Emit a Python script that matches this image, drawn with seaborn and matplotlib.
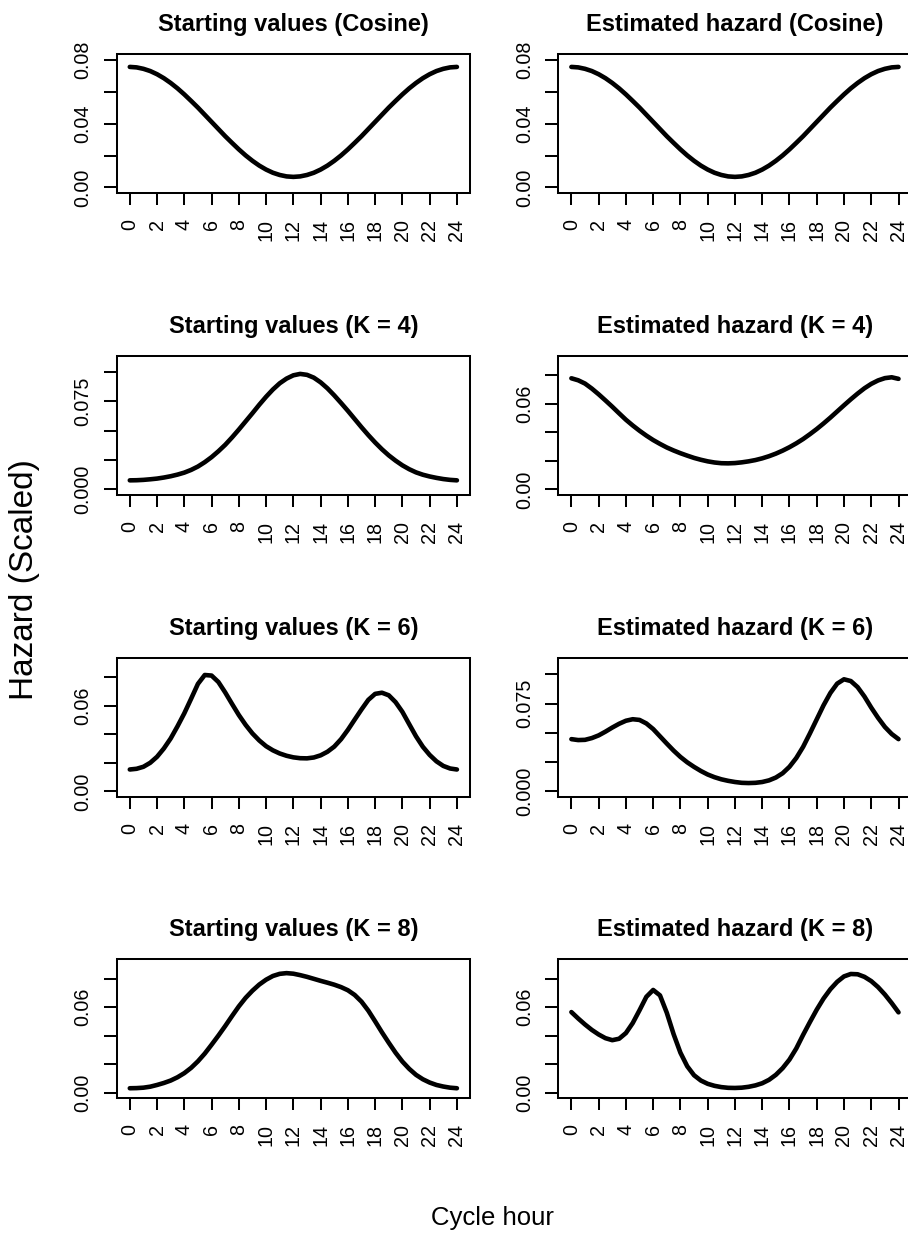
import matplotlib
matplotlib.use("Agg")
import matplotlib.pyplot as plt
import numpy as np
import pandas as pd
import seaborn as sns

# ---- data -------------------------------------------------------------
hours = [h * 0.5 for h in range(49)]  # 0, 0.5, ..., 24

start_cosine = [0.0758, 0.0755, 0.0746, 0.0732, 0.0712, 0.0687, 0.0657, 0.0623,
                0.0585, 0.0544, 0.0502, 0.0457, 0.0412, 0.0367, 0.0322, 0.0280,
                0.0239, 0.0201, 0.0167, 0.0137, 0.0112, 0.0092, 0.0078, 0.0069,
                0.0066, 0.0069, 0.0078, 0.0092, 0.0112, 0.0137, 0.0167, 0.0201,
                0.0239, 0.0280, 0.0322, 0.0367, 0.0412, 0.0457, 0.0502, 0.0544,
                0.0585, 0.0623, 0.0657, 0.0687, 0.0712, 0.0732, 0.0746, 0.0755,
                0.0758]
est_cosine = [0.0758, 0.0755, 0.0746, 0.0732, 0.0712, 0.0687, 0.0657, 0.0623,
              0.0585, 0.0544, 0.0502, 0.0457, 0.0412, 0.0367, 0.0322, 0.0280,
              0.0239, 0.0201, 0.0167, 0.0137, 0.0112, 0.0092, 0.0078, 0.0069,
              0.0066, 0.0069, 0.0078, 0.0092, 0.0112, 0.0137, 0.0167, 0.0201,
              0.0239, 0.0280, 0.0322, 0.0367, 0.0412, 0.0457, 0.0502, 0.0544,
              0.0585, 0.0623, 0.0657, 0.0687, 0.0712, 0.0732, 0.0746, 0.0755,
              0.0758]
start_k4 = [0.0077, 0.0078, 0.0081, 0.0086, 0.0092, 0.0101, 0.0112, 0.0126,
            0.0143, 0.0166, 0.0195, 0.0232, 0.0275, 0.0325, 0.0380, 0.0443,
            0.0510, 0.0580, 0.0650, 0.0722, 0.0790, 0.0852, 0.0905, 0.0945,
            0.0973, 0.0985, 0.0977, 0.0953, 0.0913, 0.0862, 0.0802, 0.0737,
            0.0670, 0.0600, 0.0530, 0.0463, 0.0400, 0.0342, 0.0290, 0.0245,
            0.0205, 0.0172, 0.0145, 0.0125, 0.0110, 0.0098, 0.0088, 0.0081,
            0.0077]
est_k4 = [0.0777, 0.0763, 0.0740, 0.0705, 0.0665, 0.0622, 0.0578, 0.0532,
          0.0487, 0.0447, 0.0410, 0.0376, 0.0345, 0.0318, 0.0293, 0.0272,
          0.0253, 0.0236, 0.0220, 0.0207, 0.0196, 0.0188, 0.0183, 0.0182,
          0.0184, 0.0189, 0.0196, 0.0205, 0.0217, 0.0232, 0.0250, 0.0271,
          0.0295, 0.0322, 0.0352, 0.0386, 0.0422, 0.0461, 0.0502, 0.0545,
          0.0588, 0.0630, 0.0670, 0.0707, 0.0738, 0.0762, 0.0778, 0.0784,
          0.0773]
start_k6 = [0.0153, 0.0158, 0.0172, 0.0200, 0.0242, 0.0300, 0.0370, 0.0455,
            0.0546, 0.0648, 0.0752, 0.0814, 0.0810, 0.0765, 0.0692, 0.0612,
            0.0534, 0.0465, 0.0405, 0.0356, 0.0316, 0.0287, 0.0265, 0.0249,
            0.0238, 0.0232, 0.0231, 0.0237, 0.0252, 0.0277, 0.0313, 0.0365,
            0.0430, 0.0502, 0.0573, 0.0640, 0.0682, 0.0690, 0.0672, 0.0624,
            0.0556, 0.0470, 0.0385, 0.0312, 0.0255, 0.0210, 0.0178, 0.0160,
            0.0153]
est_k6 = [0.0446, 0.0438, 0.0440, 0.0455, 0.0478, 0.0510, 0.0545, 0.0577,
          0.0603, 0.0616, 0.0610, 0.0580, 0.0532, 0.0470, 0.0408, 0.0348,
          0.0294, 0.0248, 0.0209, 0.0174, 0.0144, 0.0121, 0.0103, 0.0090,
          0.0080, 0.0073, 0.0071, 0.0073, 0.0080, 0.0094, 0.0118, 0.0155,
          0.0210, 0.0285, 0.0380, 0.0495, 0.0615, 0.0735, 0.0840, 0.0920,
          0.0957, 0.0942, 0.0890, 0.0810, 0.0715, 0.0628, 0.0550, 0.0490,
          0.0446]
start_k8 = [0.0031, 0.0032, 0.0035, 0.0042, 0.0054, 0.0068, 0.0085, 0.0108,
            0.0137, 0.0174, 0.0220, 0.0274, 0.0336, 0.0400, 0.0467, 0.0537,
            0.0605, 0.0665, 0.0715, 0.0758, 0.0792, 0.0818, 0.0833, 0.0838,
            0.0834, 0.0824, 0.0812, 0.0798, 0.0784, 0.0771, 0.0757, 0.0740,
            0.0718, 0.0685, 0.0638, 0.0575, 0.0500, 0.0423, 0.0350, 0.0280,
            0.0218, 0.0167, 0.0125, 0.0094, 0.0071, 0.0054, 0.0043, 0.0035,
            0.0031]
est_k8 = [0.0565, 0.0520, 0.0478, 0.0440, 0.0408, 0.0382, 0.0368, 0.0378,
          0.0418, 0.0488, 0.0578, 0.0672, 0.0720, 0.0682, 0.0560, 0.0410,
          0.0280, 0.0185, 0.0122, 0.0085, 0.0062, 0.0048, 0.0039, 0.0034,
          0.0033, 0.0035, 0.0041, 0.0051, 0.0066, 0.0090, 0.0125, 0.0172,
          0.0232, 0.0310, 0.0405, 0.0495, 0.0582, 0.0660, 0.0725, 0.0777,
          0.0815, 0.0832, 0.0830, 0.0812, 0.0782, 0.0740, 0.0688, 0.0628,
          0.0563]

titles = ["Starting values (Cosine)", "Estimated hazard (Cosine)",
          "Starting values (K = 4)", "Estimated hazard (K = 4)",
          "Starting values (K = 6)", "Estimated hazard (K = 6)",
          "Starting values (K = 8)", "Estimated hazard (K = 8)"]
series = [start_cosine, est_cosine, start_k4, est_k4,
          start_k6, est_k6, start_k8, est_k8]

# upper end of each panel's y range
y_upper = [0.0807, 0.0807, 0.1094, 0.0897, 0.0897, 0.1095, 0.0899, 0.0899]

ticks_02 = [0.0, 0.02, 0.04, 0.06, 0.08]
ticks_025 = [0.0, 0.025, 0.05, 0.075, 0.1]
y_ticks = [ticks_02, ticks_02, ticks_025, ticks_02,
           ticks_02, ticks_025, ticks_02, ticks_02]
y_ticklabels = [["0.00", "", "0.04", "", "0.08"],
                ["0.00", "", "0.04", "", "0.08"],
                ["0.000", "", "", "0.075", ""],
                ["0.00", "", "", "0.06", ""],
                ["0.00", "", "", "0.06", ""],
                ["0.000", "", "", "0.075", ""],
                ["0.00", "", "", "0.06", ""],
                ["0.00", "", "", "0.06", ""]]
x_ticks = list(range(0, 25, 2))

# ---- style ------------------------------------------------------------
sns.set_style("white")
plt.rcParams["font.family"] = ["Liberation Sans", "DejaVu Sans"]
for key in ["text.color", "axes.labelcolor", "xtick.color", "ytick.color",
            "axes.edgecolor", "axes.titlecolor"]:
    plt.rcParams[key] = "black"
plt.rcParams["axes.linewidth"] = 1.45

W, H = 908, 1239
fig = plt.figure(figsize=(W / 100, H / 100), dpi=100)
fig.patch.set_facecolor("white")

col_left = [116.7, 558.3]
row_top = [54.0, 356.0, 658.0, 959.3]
box_w, box_h = 353.3, 138.5

for i, (title, vals) in enumerate(zip(titles, series)):
    r, c = divmod(i, 2)
    x0, top = col_left[c], row_top[r]
    ax = fig.add_axes([x0 / W, 1 - (top + box_h) / H, box_w / W, box_h / H])
    df = pd.DataFrame({"hour": hours, "hazard": vals})
    sns.lineplot(data=df, x="hour", y="hazard", ax=ax, color="black",
                 linewidth=3.3, estimator=None, sort=False,
                 solid_capstyle="round", solid_joinstyle="round")
    ax.set_xlim(-0.96, 24.96)
    u = y_upper[i]
    ax.set_ylim(-0.04 * u, 1.04 * u)
    ax.set_xticks(x_ticks)
    ax.set_xticklabels([str(t) for t in x_ticks], rotation=90,
                       fontsize=14.2, va="top", ha="center")
    ax.set_yticks(y_ticks[i])
    ax.set_yticklabels(y_ticklabels[i], rotation=90, fontsize=14.2,
                       va="center", ha="right")
    ax.tick_params(axis="x", bottom=True, direction="out", length=8.9,
                   width=1.45, pad=10.0, colors="black")
    ax.tick_params(axis="y", left=True, direction="out", length=9.6,
                   width=1.45, pad=8.0, colors="black")
    ax.set_xlabel("")
    ax.set_ylabel("")
    for s in ax.spines.values():
        s.set_visible(True)
        s.set_color("black")
        s.set_linewidth(1.45)
    ax.set_title(title, fontsize=17, fontweight="bold", pad=16.5,
                 color="black")

fig.text(24.5 / W, 1 - 580 / H, "Hazard (Scaled)", rotation=90,
         fontsize=24, ha="center", va="center")
fig.text(492 / W, 1 - 1225 / H, "Cycle hour", fontsize=18.5,
         ha="center", va="baseline")

fig.savefig("out.png", dpi=100)
